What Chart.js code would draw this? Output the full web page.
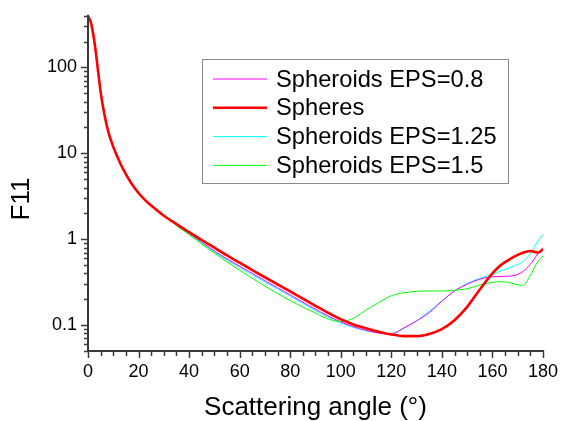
<!DOCTYPE html>
<html>
<head>
<meta charset="utf-8">
<script src="https://cdn.jsdelivr.net/npm/chart.js@4/dist/chart.umd.min.js"></script>
<style>
body { margin: 0; background: #fff; }
canvas { display: block; }
</style>
</head>
<body>
<canvas id="myChart" width="561" height="421"></canvas>
<script>
// scattering angle grid (deg), shared by every curve
var angles = [0, 1, 2, 3, 4, 5, 6, 8, 10, 12, 14, 17, 20, 23, 26, 30,
    35, 40, 45, 50, 55, 60, 65, 70, 75, 80, 85, 90, 95, 100, 105, 110, 115, 120,
    125, 130, 135, 140, 145, 150, 155, 160, 163, 166, 169, 172, 175, 178, 180];

// forward peak is the same for all shapes
var head = [395, 345, 250, 158, 90, 52, 34, 18, 11.9, 8.6, 6.45, 4.55, 3.45, 2.78, 2.34, 1.88];

var eps08 = head.concat([1.485, 1.17, 0.93, 0.73, 0.59, 0.485, 0.40, 0.329, 0.272, 0.225, 0.185, 0.153,
    0.128, 0.109, 0.096, 0.087, 0.081, 0.079, 0.093, 0.112, 0.14, 0.19, 0.25, 0.30, 0.343,
    0.366, 0.368, 0.372, 0.38, 0.42, 0.51, 0.68, 0.80]);
var spheres = head.concat([1.50, 1.21, 0.98, 0.80, 0.65, 0.533, 0.438, 0.361, 0.299, 0.247, 0.203, 0.168,
    0.139, 0.117, 0.102, 0.092, 0.084, 0.078, 0.0745, 0.0745, 0.079, 0.09, 0.114, 0.163, 0.26,
    0.40, 0.49, 0.565, 0.635, 0.695, 0.73, 0.70, 0.76]);
var eps125 = head.concat([1.48, 1.16, 0.91, 0.71, 0.575, 0.47, 0.385, 0.318, 0.263, 0.217, 0.179, 0.148,
    0.124, 0.106, 0.094, 0.086, 0.081, 0.08, 0.092, 0.112, 0.145, 0.192, 0.25, 0.305, 0.35,
    0.39, 0.425, 0.455, 0.495, 0.545, 0.68, 0.95, 1.12]);
var eps15 = head.concat([1.44, 1.13, 0.88, 0.69, 0.545, 0.435, 0.35, 0.285, 0.234, 0.193, 0.162, 0.138,
    0.118, 0.11, 0.12, 0.15, 0.183, 0.22, 0.238, 0.247, 0.25, 0.25, 0.255, 0.265, 0.293,
    0.315, 0.321, 0.315, 0.30, 0.29, 0.38, 0.55, 0.64]);

var labels = ['Spheroids EPS=0.8', 'Spheres', 'Spheroids EPS=1.25', 'Spheroids EPS=1.5'];
var colors = ['#ff00ff', '#ff0000', '#00ffff', '#00ff00'];
var widths = [1, 2.6, 1, 1];

var xTicks = [0, 20, 40, 60, 80, 100, 120, 140, 160, 180];
var yTicks = [0.1, 1, 10, 100];

var FONT = "'Liberation Sans', Arial, sans-serif";

var points = function (vals) {
    return angles.map(function (a, i) { return { x: a, y: vals[i] }; });
};

var line = function (i, vals, order) {
    return {
        label: labels[i],
        data: points(vals),
        borderColor: colors[i],
        backgroundColor: colors[i],
        borderWidth: widths[i],
        pointRadius: 0,
        showLine: true,
        fill: false,
        cubicInterpolationMode: 'monotone',
        order: order
    };
};

// axis lines, minor ticks, titles and the boxed legend
var decor = {
    id: 'decor',
    afterDraw: function (chart) {
        var ctx = chart.ctx;
        var area = chart.chartArea;
        var xs = chart.scales.x, ys = chart.scales.y;
        ctx.save();
        ctx.strokeStyle = '#3a3a3a';
        ctx.lineWidth = 2;
        ctx.beginPath();
        ctx.moveTo(area.left, area.top);
        ctx.lineTo(area.left, area.bottom);
        ctx.lineTo(area.right + 1, area.bottom);
        ctx.stroke();

        ctx.lineWidth = 1.5;
        ctx.beginPath();
        for (var a = 0; a <= 180; a += 5) {
            var px = Math.round(xs.getPixelForValue(a)) + 0.5;
            var len = a % 20 == 0 ? 7 : 5;
            ctx.moveTo(px, area.bottom);
            ctx.lineTo(px, area.bottom + len);
        }
        for (var d = -2; d <= 2; d++) {
            for (var m = 1; m <= 9; m++) {
                var v = m * Math.pow(10, d);
                if (v < ys.min || v > ys.max) continue;
                var py = Math.round(ys.getPixelForValue(v)) + 0.5;
                var l = m == 1 ? 7 : 4;
                ctx.moveTo(area.left, py);
                ctx.lineTo(area.left - l, py);
            }
        }
        ctx.stroke();

        // axis titles
        ctx.fillStyle = '#000';
        ctx.font = '26px ' + FONT;
        ctx.textAlign = 'center';
        ctx.textBaseline = 'alphabetic';
        ctx.fillText('Scattering angle (°)', (area.left + area.right) / 2, 415);
        ctx.translate(29, 199);
        ctx.rotate(-Math.PI / 2);
        ctx.fillText('F11', 0, 0);
        ctx.setTransform(1, 0, 0, 1, 0, 0);

        // legend
        ctx.fillStyle = '#fff';
        ctx.fillRect(202.5, 59.5, 306, 124);
        ctx.strokeStyle = '#8a8a8a';
        ctx.lineWidth = 1;
        ctx.strokeRect(202.5, 59.5, 306, 124);
        ctx.font = '23.7px ' + FONT;
        ctx.textAlign = 'left';
        for (var i = 0; i < labels.length; i++) {
            var y = 79 + i * 28.8;
            ctx.strokeStyle = colors[i];
            ctx.lineWidth = widths[i];
            ctx.beginPath();
            ctx.moveTo(213, y);
            ctx.lineTo(267, y);
            ctx.stroke();
            ctx.fillStyle = '#000';
            ctx.fillText(labels[i], 276, y + 7.5);
        }
        ctx.restore();
    }
};

window.onload = function () {
    var ctx = document.getElementById("myChart").getContext("2d");
    new Chart(ctx, {
        type: 'scatter',
        data: {
            datasets: [
                line(0, eps08, 2),
                line(1, spheres, 0),
                line(2, eps125, 3),
                line(3, eps15, 1)
            ]
        },
        options: {
            responsive: false,
            animation: false,
            devicePixelRatio: 1,
            layout: { padding: { top: 14, right: 17, left: 0, bottom: 0 } },
            plugins: {
                legend: { display: false },
                tooltip: { enabled: false }
            },
            scales: {
                x: {
                    type: 'linear',
                    min: 0,
                    max: 180,
                    grid: { display: false, drawTicks: true, tickLength: 7 },
                    border: { display: false },
                    afterBuildTicks: function (scale) {
                        scale.ticks = xTicks.map(function (v) { return { value: v }; });
                    },
                    afterFit: function (scale) { scale.height = 70; },
                    ticks: {
                        autoSkip: false,
                        maxRotation: 0,
                        padding: 3,
                        color: '#000',
                        font: { family: FONT, size: 18 }
                    }
                },
                y: {
                    type: 'logarithmic',
                    min: 0.05,
                    max: 410,
                    grid: { display: false, drawTicks: true, tickLength: 7 },
                    border: { display: false },
                    afterBuildTicks: function (scale) {
                        scale.ticks = yTicks.map(function (v) { return { value: v }; });
                    },
                    afterFit: function (scale) { scale.width = 88; },
                    ticks: {
                        autoSkip: false,
                        padding: 4,
                        color: '#000',
                        font: { family: FONT, size: 18 },
                        callback: function (v) { return String(v); }
                    }
                }
            }
        },
        plugins: [decor]
    });
};
</script>
</body>
</html>
